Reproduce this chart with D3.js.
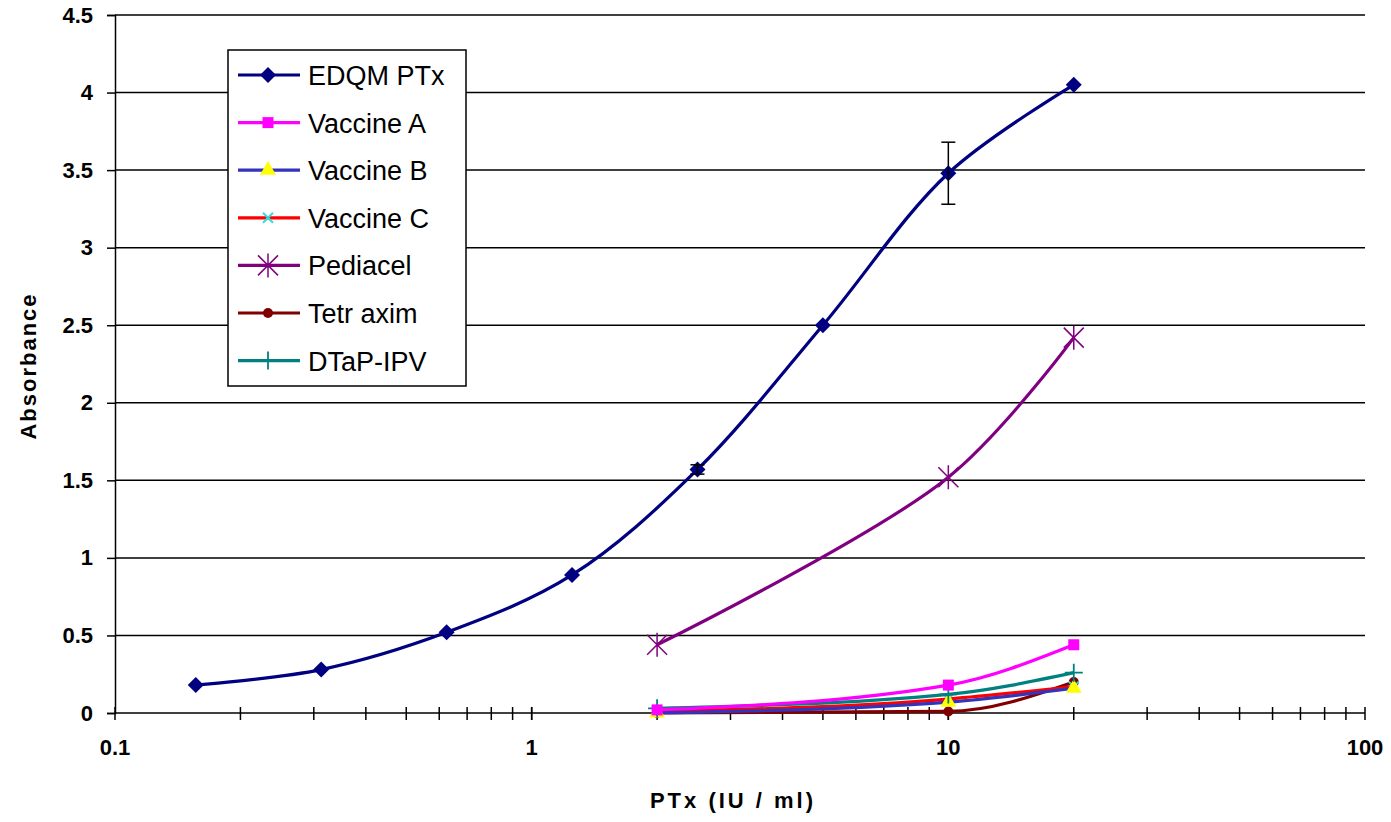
<!DOCTYPE html>
<html>
<head>
<meta charset="utf-8">
<script src="https://cdn.jsdelivr.net/npm/d3@7"></script>
<style>
  body { margin: 0; background: #fff; }
  text { font-family: "Liberation Sans", Arial, sans-serif; }
</style>
</head>
<body>
<svg width="1391" height="822"></svg>
<script>
// data
var edqmX = [0.15625, 0.3125, 0.625, 1.25, 2.5, 5, 10, 20];
var edqmY = [0.18, 0.28, 0.52, 0.89, 1.57, 2.5, 3.48, 4.05];
var edqmErr = [0, 0, 0, 0, 0.03, 0, 0.2, 0];

var vacX = [2, 10, 20];
var vaccineA = [0.02, 0.18, 0.44];
var vaccineB = [0.00, 0.07, 0.16];
var vaccineC = [0.01, 0.09, 0.17];
var pediacel = [0.44, 1.52, 2.42];
var tetraxim = [0.00, 0.01, 0.20];
var dtapIpv = [0.03, 0.12, 0.26];

var seriesNames = ["EDQM PTx", "Vaccine A", "Vaccine B", "Vaccine C", "Pediacel", "Tetr axim", "DTaP-IPV"];
var yTicks = [0, 0.5, 1, 1.5, 2, 2.5, 3, 3.5, 4, 4.5];
var xTicks = [0.1, 1, 10, 100];

var series = [
  { name: seriesNames[0], x: edqmX, y: edqmY, line: "#000080", mark: "diamond", mcol: "#000080" },
  { name: seriesNames[1], x: vacX, y: vaccineA, line: "#ff00ff", mark: "square", mcol: "#ff00ff" },
  { name: seriesNames[2], x: vacX, y: vaccineB, line: "#3333bb", mark: "triangle", mcol: "#ffff00" },
  { name: seriesNames[3], x: vacX, y: vaccineC, line: "#ff0000", mark: "cross", mcol: "#33dddd" },
  { name: seriesNames[4], x: vacX, y: pediacel, line: "#800080", mark: "star", mcol: "#800080" },
  { name: seriesNames[5], x: vacX, y: tetraxim, line: "#800000", mark: "circle", mcol: "#800000" },
  { name: seriesNames[6], x: vacX, y: dtapIpv, line: "#008080", mark: "plus", mcol: "#008080" }
];

var svg = d3.select("svg");
var plotLeft = 115, plotRight = 1365, plotTop = 15, plotBottom = 713;

var x = d3.scaleLog().domain([0.1, 100]).range([plotLeft, plotRight]);
var y = d3.scaleLinear().domain([0, 4.5]).range([plotBottom, plotTop]);

// gridlines
svg.append("g").selectAll("line").data(yTicks.slice(1)).enter().append("line")
  .attr("x1", plotLeft).attr("x2", plotRight)
  .attr("y1", function(d) { return y(d); }).attr("y2", function(d) { return y(d); })
  .attr("stroke", "#000").attr("stroke-width", 1.5);

// y axis
var yAxis = svg.append("g").attr("transform", "translate(" + plotLeft + ",0)")
  .call(d3.axisLeft(y).tickValues(yTicks).tickSize(8).tickFormat(d3.format("")));
yAxis.select(".domain").attr("stroke-width", 1.5);
yAxis.selectAll(".tick line").attr("stroke-width", 1.5);
yAxis.selectAll("text").attr("font-size", 22).attr("font-weight", "bold").attr("x", -22);

// x axis: minor ticks crossing the axis
var minor = [];
[0.1, 1, 10].forEach(function(b) { for (var i = 1; i <= 10; i++) minor.push(b * i); });
var xAxis = svg.append("g").attr("transform", "translate(0," + plotBottom + ")");
xAxis.append("line").attr("x1", plotLeft).attr("x2", plotRight).attr("stroke", "#000").attr("stroke-width", 1.5);
xAxis.selectAll(".mt").data(minor).enter().append("line")
  .attr("x1", function(d) { return x(d); }).attr("x2", function(d) { return x(d); })
  .attr("y1", -6).attr("y2", 7).attr("stroke", "#000").attr("stroke-width", 1.5);
xAxis.selectAll(".lab").data(xTicks).enter().append("text")
  .attr("x", function(d) { return x(d); }).attr("y", 42)
  .attr("text-anchor", "middle").attr("font-size", 22).attr("font-weight", "bold")
  .text(function(d) { return d; });

// axis titles
svg.append("text").attr("x", 733).attr("y", 808).attr("text-anchor", "middle")
  .attr("font-size", 22).attr("font-weight", "bold").attr("letter-spacing", 3).text("PTx (IU / ml)");
svg.append("text").attr("transform", "translate(36,366) rotate(-90)").attr("text-anchor", "middle")
  .attr("font-size", 22).attr("font-weight", "bold").attr("letter-spacing", 2).text("Absorbance");

// smooth lines; monotone for the flat ones so they don't dip below zero
var smooth = d3.line().curve(d3.curveCatmullRom.alpha(0.5))
  .x(function(d) { return x(d[0]); }).y(function(d) { return y(d[1]); });
var flat = d3.line().curve(d3.curveMonotoneX)
  .x(function(d) { return x(d[0]); }).y(function(d) { return y(d[1]); });

function drawMarker(g, type, col, cx, cy) {
  var tr = "translate(" + cx + "," + cy + ")";
  if (type === "diamond") {
    g.append("path").attr("d", "M0,-8L8,0L0,8L-8,0Z").attr("transform", tr).attr("fill", col);
  } else if (type === "square") {
    g.append("rect").attr("x", cx - 5.5).attr("y", cy - 5.5).attr("width", 11).attr("height", 11).attr("fill", col);
  } else if (type === "triangle") {
    g.append("path").attr("d", d3.symbol(d3.symbolTriangle, 110)()).attr("transform", tr).attr("fill", col);
  } else if (type === "circle") {
    g.append("circle").attr("cx", cx).attr("cy", cy).attr("r", 5).attr("fill", col);
  } else if (type === "cross") {
    g.append("path").attr("d", "M-5,-5L5,5M-5,5L5,-5").attr("transform", tr).attr("stroke", col).attr("stroke-width", 2);
  } else if (type === "plus") {
    g.append("path").attr("d", "M-9,0L9,0M0,-9L0,9").attr("transform", tr).attr("stroke", col).attr("stroke-width", 1.8);
  } else if (type === "star") {
    g.append("path").attr("d", "M-10,-10L10,10M-10,10L10,-10M0,-12L0,12").attr("transform", tr).attr("stroke", col).attr("stroke-width", 1.5);
  }
}

// draw series bottom-most first so EDQM sits on top
var order = [5, 3, 2, 6, 1, 4, 0];
order.forEach(function(i) {
  var s = series[i];
  var pts = s.x.map(function(v, j) { return [v, s.y[j]]; });
  var g = svg.append("g");
  g.append("path").datum(pts).attr("d", (i === 0 || i === 4) ? smooth : flat).attr("fill", "none")
    .attr("stroke", s.line).attr("stroke-width", 3.2);
  pts.forEach(function(p) { drawMarker(g, s.mark, s.mcol, x(p[0]), y(p[1])); });
});

// error bars on EDQM
var eb = svg.append("g");
edqmX.forEach(function(v, j) {
  var e = edqmErr[j];
  if (!e) return;
  var cx = x(v);
  eb.append("line").attr("x1", cx).attr("x2", cx).attr("y1", y(edqmY[j] + e)).attr("y2", y(edqmY[j] - e)).attr("stroke", "#000").attr("stroke-width", 1.5);
  [edqmY[j] + e, edqmY[j] - e].forEach(function(t) {
    eb.append("line").attr("x1", cx - 7).attr("x2", cx + 7).attr("y1", y(t)).attr("y2", y(t)).attr("stroke", "#000").attr("stroke-width", 1.5);
  });
});

// legend
var lg = svg.append("g");
lg.append("rect").attr("x", 228).attr("y", 50).attr("width", 238).attr("height", 336)
  .attr("fill", "#fff").attr("stroke", "#000").attr("stroke-width", 1.5);
series.forEach(function(s, i) {
  var ly = 75 + i * 47.6;
  lg.append("line").attr("x1", 238).attr("x2", 300).attr("y1", ly).attr("y2", ly)
    .attr("stroke", s.line).attr("stroke-width", 3.2);
  drawMarker(lg, s.mark, s.mcol, 268, ly);
  lg.append("text").attr("x", 308).attr("y", ly + 10).attr("font-size", 27).text(s.name);
});
</script>
</body>
</html>
